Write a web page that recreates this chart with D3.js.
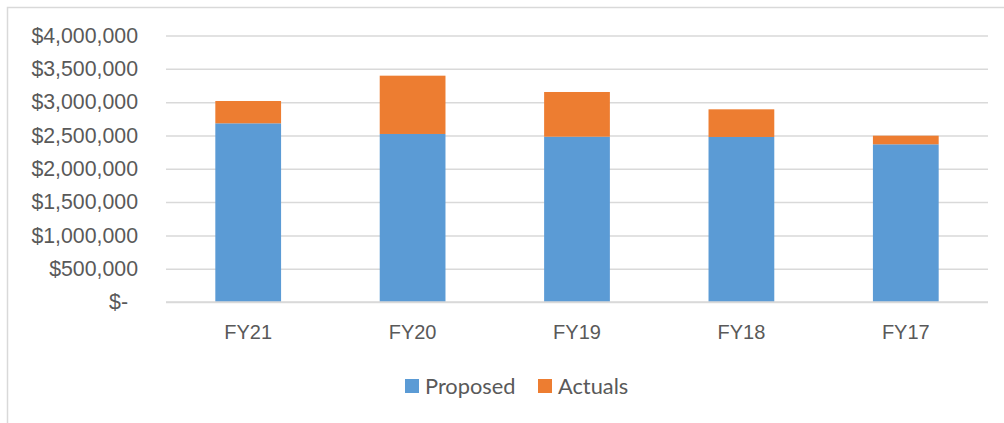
<!DOCTYPE html>
<html><head><meta charset="utf-8">
<script src="https://cdn.jsdelivr.net/npm/d3@7"></script>
<style>body{margin:0;background:#fff;}svg{display:block;font-family:Lato,"Open Sans",sans-serif;}</style>
</head><body>
<svg id="c" width="1004" height="423"></svg>
<script>
const categories = ["FY21","FY20","FY19","FY18","FY17"];
const proposed = [2682000, 2522000, 2481000, 2477000, 2367000];
const actuals = [335000, 875000, 671000, 415000, 129000];
const seriesNames = ["Proposed","Actuals"];
const seriesColors = ["#5B9BD5","#ED7D31"];
const yTicks = [0,500000,1000000,1500000,2000000,2500000,3000000,3500000,4000000];

const svg = d3.select("#c");
svg.append("rect").attr("x",7.5).attr("y",7.5).attr("width",1010).attr("height",430)
  .attr("fill","none").attr("stroke","#d9d9d9").attr("stroke-width",1.5);

const x = d3.scaleBand().domain(categories).range([166,988]).paddingInner(0.6).paddingOuter(0.3);
const y = d3.scaleLinear().domain([0,4000000]).range([302,35.5]);

const fmt = v => v === 0 ? "$-" : "$" + d3.format(",")(v);
const fs = "21.3px";

const yAxis = d3.axisLeft(y).tickValues(yTicks).tickSize(-(988-166)).tickFormat(fmt).tickPadding(28);
const ga = svg.append("g").attr("transform","translate(166,0)").call(yAxis);
ga.select(".domain").remove();
ga.selectAll(".tick line").attr("stroke","#d9d9d9").attr("stroke-width",1.5);
ga.selectAll(".tick text").attr("fill","#595959").attr("font-size",fs)
  .attr("dx", d => d === 0 ? -10 : 0);

const data = categories.map((c,i)=>({cat:c, Proposed:proposed[i], Actuals:actuals[i]}));
const stack = d3.stack().keys(seriesNames)(data);

svg.append("g").selectAll("g").data(stack).join("g")
  .attr("fill",(d,i)=>seriesColors[i])
  .selectAll("rect").data(d=>d).join("rect")
  .attr("x",d=>x(d.data.cat)).attr("width",x.bandwidth())
  .attr("y",d=>y(d[1])).attr("height",d=>y(d[0])-y(d[1]));

svg.append("line").attr("x1",166).attr("x2",988).attr("y1",y(0)).attr("y2",y(0))
  .attr("stroke","#d9d9d9").attr("stroke-width",1.5);

const xAxis = d3.axisBottom(x).tickSize(0).tickPadding(23);
const gx = svg.append("g").attr("transform",`translate(0,${y(0)})`).call(xAxis);
gx.select(".domain").remove();
gx.selectAll(".tick text").attr("fill","#595959").attr("font-size","20px");

const legend = svg.append("g");
const legendX = [405, 538];
seriesNames.forEach((n,i)=>{
  legend.append("rect").attr("x",legendX[i]).attr("y",379).attr("width",14).attr("height",14).attr("fill",seriesColors[i]);
  legend.append("text").attr("x",legendX[i]+20).attr("y",386).attr("dy","0.35em")
    .attr("fill","#595959").attr("font-size","21.8px").text(n);
});
</script>
</body></html>
